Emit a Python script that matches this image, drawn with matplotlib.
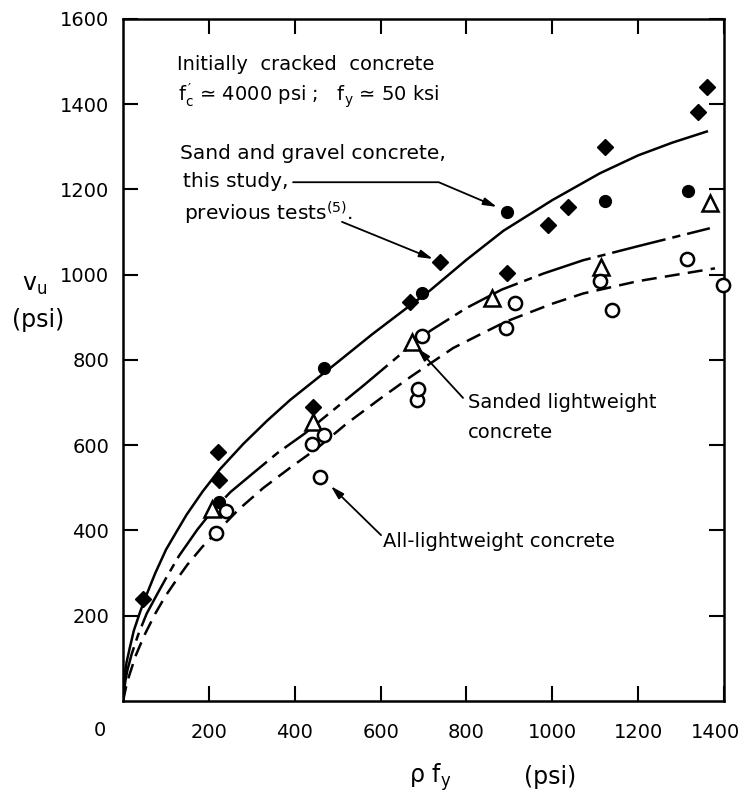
import matplotlib.pyplot as plt
from matplotlib.transforms import ScaledTranslation

plt.rcParams['font.family'] = ['DejaVu Sans']

# sand and gravel concrete, previous tests (filled diamonds)
prev_x = [46, 221, 223, 442, 668, 738, 894, 991, 1037, 1123, 1339, 1360]
prev_y = [239, 585, 518, 689, 937, 1030, 1003, 1117, 1160, 1300, 1382, 1441]

# sand and gravel concrete, this study (filled circles)
study_x = [223, 467, 696, 894, 1123, 1317]
study_y = [467, 780, 958, 1148, 1174, 1197]

# sanded lightweight concrete (open triangles)
sanded_x = [207, 442, 673, 859, 1113, 1367]
sanded_y = [450, 655, 843, 945, 1017, 1169]

# all-lightweight concrete (open circles)
allw_x = [217, 240, 440, 467, 459, 684, 688, 696, 892, 913, 1111, 1138, 1313, 1398]
allw_y = [395, 446, 604, 624, 526, 706, 731, 856, 874, 933, 986, 917, 1036, 976]

# design curves
sg_cx = [0, 4, 8, 15, 25, 40, 55, 75, 100, 125, 148, 185, 226, 280, 335, 389, 450, 500,
         580, 661, 715, 800, 886, 1000, 1111, 1200, 1280, 1360]
sg_cy = [0, 62, 90, 122, 165, 210, 250, 300, 355, 398, 437, 491, 544, 603, 657, 706, 755, 795,
         860, 922, 963, 1035, 1103, 1175, 1238, 1280, 1310, 1336]

sl_cx = [0, 5, 10, 20, 35, 55, 78, 100, 130, 173, 207, 250, 300, 360, 424, 466, 560, 645,
         715, 800, 882, 980, 1072, 1200, 1367]
sl_cy = [0, 45, 72, 110, 155, 205, 248, 288, 340, 402, 445, 490, 532, 582, 628, 663, 740, 812,
         868, 922, 965, 1003, 1034, 1067, 1109]

al_cx = [0, 8, 15, 30, 50, 75, 98, 125, 150, 185, 217, 270, 327, 389, 451, 520, 600, 672,
         769, 832, 892, 1000, 1072, 1200, 1379]
al_cy = [0, 38, 62, 108, 155, 205, 245, 285, 320, 362, 395, 450, 500, 547, 592, 650, 710, 762,
         828, 860, 890, 932, 956, 985, 1015]

xticks = [200, 400, 600, 800, 1000, 1200, 1400]
yticks = [200, 400, 600, 800, 1000, 1200, 1400, 1600]

fig = plt.figure(figsize=(7.46, 7.97), dpi=100)
ax = fig.add_axes([0.165, 0.1205, 0.8055, 0.8557])

lw = 1.8
ax.plot(sg_cx, sg_cy, color='black', lw=lw, zorder=2)
ax.plot(sl_cx, sl_cy, color='black', lw=lw, dashes=(22, 2.8, 3.3, 2.8), zorder=2)
ax.plot(al_cx, al_cy, color='black', lw=lw, dashes=(6, 3.3), zorder=2)

ax.plot(prev_x, prev_y, 'D', color='black', ms=8.5, ls='none', zorder=3, clip_on=False)
ax.plot(study_x, study_y, 'o', color='black', ms=8.5, ls='none', zorder=3, clip_on=False)
ax.plot(sanded_x, sanded_y, '^', mfc='white', mec='black', mew=1.8, ms=11,
        ls='none', zorder=3, clip_on=False)
ax.plot(allw_x, allw_y, 'o', mfc='white', mec='black', mew=1.8, ms=9.5,
        ls='none', zorder=3, clip_on=False)

ax.set_xlim(0, 1400)
ax.set_ylim(0, 1600)
ax.set_xticks(xticks)
ax.set_xticklabels([str(v) for v in xticks])
ax.set_yticks(yticks)
ax.set_yticklabels([str(v) for v in yticks])
ax.tick_params(direction='in', length=11, width=1.5, labelsize=14, top=True, right=True)
ax.tick_params(axis='x', pad=16)
ax.tick_params(axis='y', pad=10)
for s in ax.spines.values():
    s.set_linewidth(1.8)

# last x label sits a little left of its tick so it stays inside the page
last = ax.get_xticklabels()[-1]
last.set_transform(last.get_transform() + ScaledTranslation(-8 / 100, 0, fig.dpi_scale_trans))

fig.text(100 / 746, 1 - 731 / 797, "0", ha='center', va='center', fontsize=14)

# text notes
ax.text(126, 1480, "Initially  cracked  concrete", fontsize=14, va='baseline')
ax.text(128, 1406, r"$\mathregular{f^{\,\prime}_c}$ ≃ 4000 psi ;   $\mathregular{f_y}$ ≃ 50 ksi",
        fontsize=14, va='baseline')
ax.text(133, 1271, "Sand and gravel concrete,", fontsize=14.5, va='baseline')
ax.text(140, 1205, "this study,", fontsize=14.5, va='baseline')
ax.text(142, 1128, r"previous tests$^{\mathregular{(5)}}$.", fontsize=14.5, va='baseline')
ax.text(804, 687, "Sanded lightweight", fontsize=14, va='baseline')
ax.text(804, 616, "concrete", fontsize=14, va='baseline')
ax.text(606, 362, "All-lightweight concrete", fontsize=14, va='baseline')

arrow = dict(arrowstyle='-|>,head_length=0.8,head_width=0.22', color='black', lw=1.3,
             shrinkA=0, shrinkB=0)
ax.annotate("", xy=(871, 1159), xytext=(396, 1217),
            arrowprops=dict(arrow, connectionstyle="angle,angleA=0,angleB=157,rad=0"))
ax.annotate("", xy=(722, 1037), xytext=(510, 1124), arrowprops=arrow)
ax.annotate("", xy=(685, 828), xytext=(792, 711), arrowprops=arrow)
ax.annotate("", xy=(484, 504), xytext=(601, 389), arrowprops=arrow)

# axis labels
fig.text(35 / 746, 1 - 285 / 797, r"$\mathregular{v_u}$", ha='center', va='center', fontsize=17)
fig.text(38 / 746, 1 - 320 / 797, "(psi)", ha='center', va='center', fontsize=17)
fig.text(430 / 746, 1 - 777 / 797, r"ρ $\mathregular{f_y}$", ha='center', va='center', fontsize=17)
fig.text(550 / 746, 1 - 777 / 797, "(psi)", ha='center', va='center', fontsize=17)

fig.savefig("out.png", dpi=100, facecolor='white')
